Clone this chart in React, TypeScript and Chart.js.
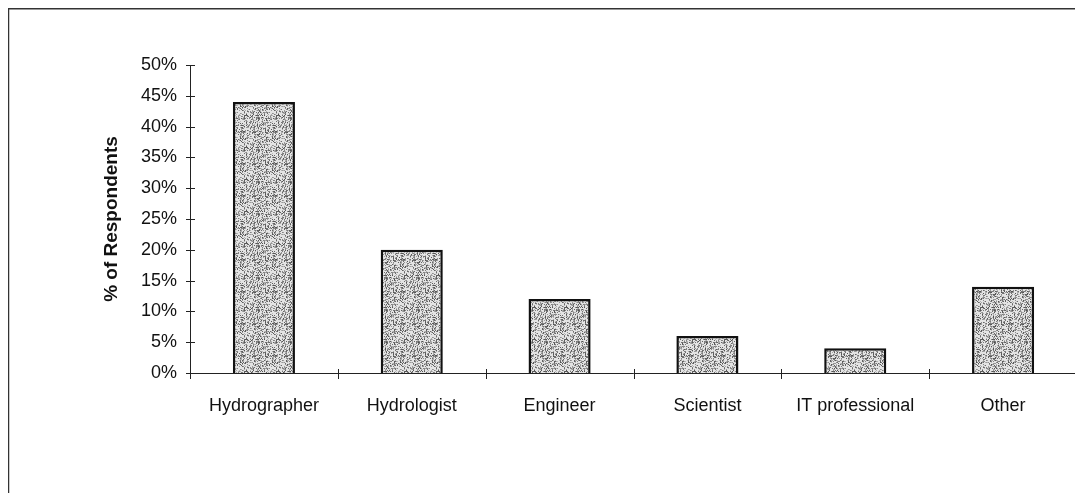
import React, { useEffect, useRef } from "react";
import { Chart, registerables } from "chart.js";

Chart.register(...registerables);

const categories = ["Hydrographer", "Hydrologist", "Engineer", "Scientist", "IT professional", "Other"];
const percentValues = [44, 20, 12, 6, 4, 14];
const yTickValues = [0, 5, 10, 15, 20, 25, 30, 35, 40, 45, 50];

function makePattern(): CanvasPattern | string {
  const c = document.createElement("canvas");
  c.width = 32;
  c.height = 32;
  const ctx = c.getContext("2d");
  if (!ctx) return "#b8b8b8";
  ctx.fillStyle = "#e4e4e4";
  ctx.fillRect(0, 0, 32, 32);
  let s = 12345;
  const next = () => {
    s = (s * 1103515245 + 12345) & 0x7fffffff;
    return s / 0x7fffffff;
  };
  for (let i = 0; i < 620; i++) {
    const x = Math.floor(next() * 32);
    const y = Math.floor(next() * 32);
    const g = Math.floor(80 + next() * 110);
    ctx.fillStyle = `rgb(${g},${g},${g})`;
    ctx.fillRect(x, y, 1, 1);
  }
  return ctx.createPattern(c, "repeat") || "#b8b8b8";
}

const framePlugin = {
  id: "frameAndTicks",
  afterDraw(chart: any) {
    const ctx = chart.ctx;
    const x = chart.scales.x;
    const y = chart.scales.y;
    const area = chart.chartArea;
    ctx.save();
    ctx.strokeStyle = "#333";
    ctx.lineWidth = 1.5;
    ctx.beginPath();
    ctx.moveTo(0.5, chart.height);
    ctx.lineTo(0.5, 0.75);
    ctx.lineTo(chart.width, 0.75);
    ctx.stroke();
    ctx.strokeStyle = "#222";
    ctx.lineWidth = 1;
    ctx.beginPath();
    ctx.moveTo(area.left + 0.5, y.getPixelForValue(50));
    ctx.lineTo(area.left + 0.5, area.bottom + 0.5);
    ctx.lineTo(area.right, area.bottom + 0.5);
    ctx.stroke();
    ctx.beginPath();
    for (const v of yTickValues) {
      const py = Math.round(y.getPixelForValue(v)) + 0.5;
      ctx.moveTo(area.left - 4, py);
      ctx.lineTo(area.left + 5, py);
    }
    const n = categories.length;
    const half = (x.getPixelForValue(1) - x.getPixelForValue(0)) / 2;
    for (let i = 0; i <= n; i++) {
      const px = Math.round(x.getPixelForValue(i) - half) + 0.5;
      ctx.moveTo(px, area.bottom - 4);
      ctx.lineTo(px, area.bottom + 6);
    }
    ctx.stroke();
    ctx.restore();
  },
};

export default function App() {
  const ref = useRef<HTMLCanvasElement | null>(null);
  useEffect(() => {
    if (!ref.current) return;
    const chart = new Chart(ref.current, {
      type: "bar",
      data: {
        labels: categories,
        datasets: [
          {
            data: percentValues,
            backgroundColor: makePattern() as any,
            borderColor: "#111",
            borderWidth: 2.5,
            borderSkipped: "bottom",
            categoryPercentage: 1,
            barPercentage: 0.42,
          },
        ],
      },
      options: {
        animation: false,
        responsive: false,
        maintainAspectRatio: false,
        layout: { padding: { left: 92, top: 57, right: 6, bottom: 70 } },
        plugins: { legend: { display: false }, tooltip: { enabled: false } },
        scales: {
          x: {
            grid: { display: false, drawTicks: false },
            border: { display: false },
            ticks: {
              color: "#111",
              padding: 22,
              maxRotation: 0,
              autoSkip: false,
              font: { family: "'Liberation Sans', Arial, sans-serif", size: 18 },
            },
            afterFit(s: any) {
              s.height = 50;
            },
          },
          y: {
            min: 0,
            max: 50,
            grid: { display: false, drawTicks: false },
            border: { display: false },
            ticks: {
              stepSize: 5,
              color: "#111",
              padding: 13,
              callback: (v: any) => `${v}%`,
              font: { family: "'Liberation Sans', Arial, sans-serif", size: 18 },
            },
            title: {
              display: true,
              text: "% of Respondents",
              color: "#111",
              padding: 0,
              font: { family: "'Liberation Sans', Arial, sans-serif", size: 19, weight: "bold" },
            },
            afterFit(s: any) {
              s.width = 90;
            },
          },
        },
      },
      plugins: [framePlugin],
    });
    return () => chart.destroy();
  }, []);
  return <canvas ref={ref} width={1075} height={485} style={{ display: "block" }} />;
}
